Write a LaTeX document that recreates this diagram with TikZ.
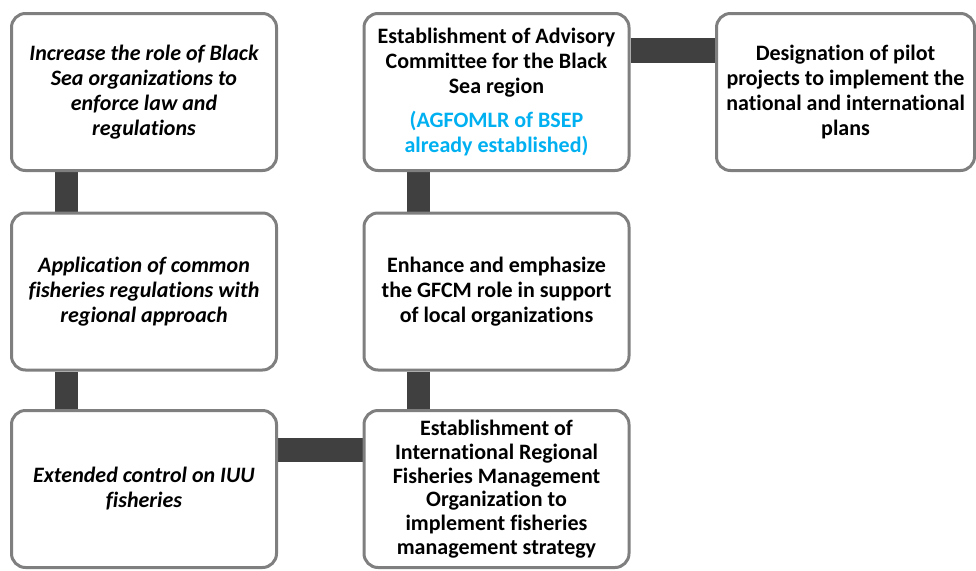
\documentclass[tikz,border=0pt]{standalone}
\usepackage{fontspec}
\setmainfont[Ligatures=CommonOff]{Carlito}
\usetikzlibrary{backgrounds}
\definecolor{boxgray}{HTML}{7F7F7F}
\definecolor{conngray}{HTML}{404040}
\definecolor{skyb}{HTML}{00B0F0}
\begin{document}
\begin{tikzpicture}[x=1pt,y=-1pt,
  box/.style={rectangle, rounded corners=14pt, draw=boxgray, line width=3pt, fill=white,
    minimum width=265pt, minimum height=157pt, align=center, inner sep=2pt,
    font=\fontsize{22}{25}\selectfont\bfseries},
  ibox/.style={box, font=\fontsize{22}{25}\selectfont\bfseries\itshape},
  conn/.style={draw=conngray, line width=23pt}]
\useasboundingbox (0,0) rectangle (976,570);
\node[ibox] (A) at (144,92) {Increase the role of Black\\Sea organizations to\\enforce law and\\regulations};
\node[ibox] (B) at (144,291.5) {Application of common\\fisheries regulations with\\regional approach};
\node[ibox] (C) at (144,489) {Extended control on IUU\\fisheries};
\node[box] (D) at (496.5,92) {Establishment of Advisory\\Committee for the Black\\Sea region\\[9pt]\textcolor{skyb}{(AGFOMLR of BSEP}\\\textcolor{skyb}{already established)}};
\node[box] (E) at (496.5,291.5) {Enhance and emphasize\\the GFCM role in support\\of local organizations};
\node[box, font=\fontsize{22}{23.7}\selectfont\bfseries] (F) at (496.5,489) {Establishment of\\International Regional\\Fisheries Management\\Organization to\\implement fisheries\\management strategy};
\node[box, minimum width=258pt] (G) at (845.5,92) {Designation of pilot\\projects to implement the\\national and international\\plans};
\begin{scope}[on background layer]
\draw[conn] ([xshift=-78pt]A.south) -- ([xshift=-78pt]B.north);
\draw[conn] ([xshift=-78pt]B.south) -- ([xshift=-78pt]C.north);
\draw[conn] ([xshift=-78pt]D.south) -- ([xshift=-78pt]E.north);
\draw[conn] ([xshift=-78pt]E.south) -- ([xshift=-78pt]F.north);
\draw[conn, line width=25pt] ([yshift=41.5pt]D.east) -- ([yshift=41.5pt]G.west);
\draw[conn, line width=24pt] ([yshift=39pt]C.east) -- ([yshift=39pt]F.west);
\end{scope}
\end{tikzpicture}
\end{document}
